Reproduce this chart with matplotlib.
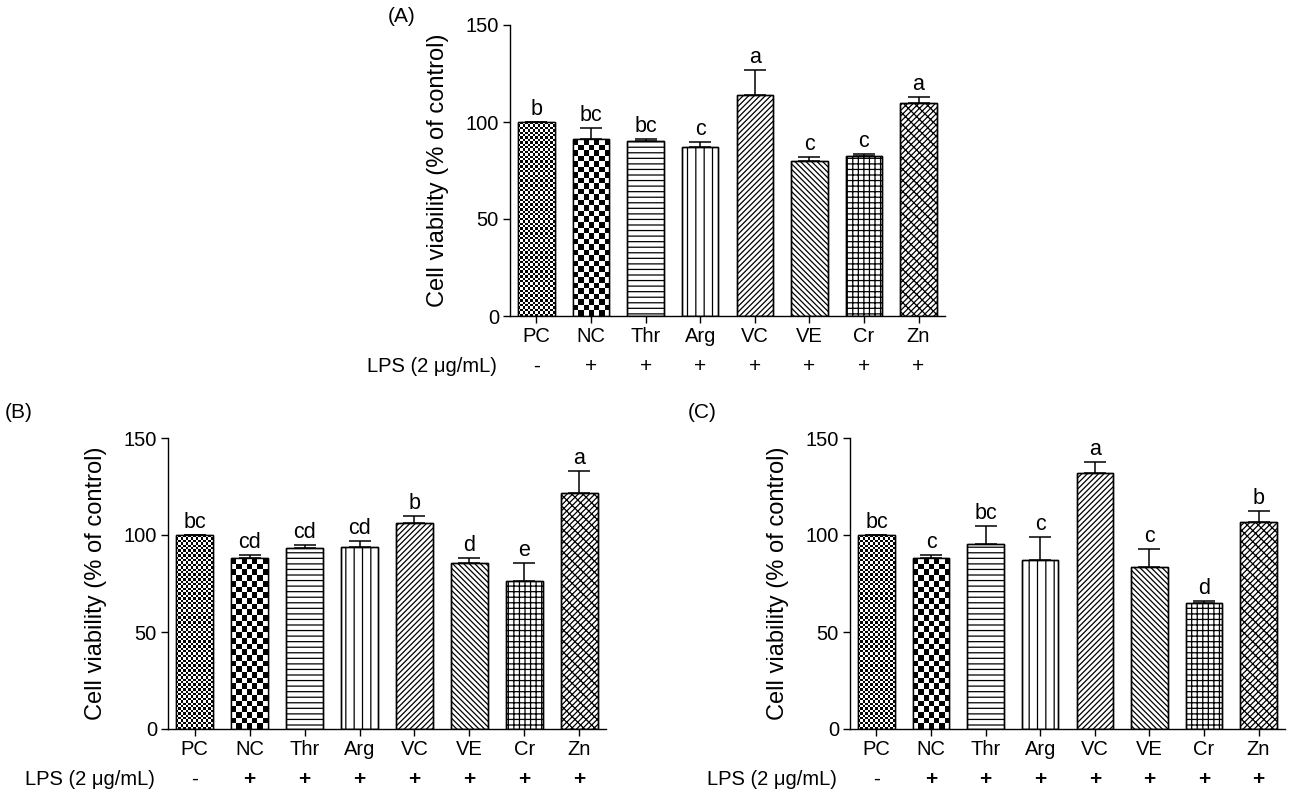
import numpy as np
import matplotlib
matplotlib.use("Agg")
import matplotlib.pyplot as plt
from matplotlib import transforms

plt.rcParams['font.family'] = ['Liberation Sans', 'DejaVu Sans']
plt.rcParams['hatch.linewidth'] = 0.9
plt.rcParams['hatch.color'] = 'black'

# data
groups = ['PC', 'NC', 'Thr', 'Arg', 'VC', 'VE', 'Cr', 'Zn']
lps_signs = ['-', '+', '+', '+', '+', '+', '+', '+']

a_mean = [100, 91.1, 90.2, 87.1, 113.7, 80.1, 82.3, 109.6]
a_err = [0, 5.7, 1.0, 2.4, 12.9, 2.0, 1.2, 3.1]
a_letters = ['b', 'bc', 'bc', 'c', 'a', 'c', 'c', 'a']

b_mean = [100, 87.9, 93.4, 93.9, 106.1, 85.8, 76.2, 121.6]
b_err = [0, 1.6, 1.2, 3.1, 3.5, 2.3, 9.5, 11.2]
b_letters = ['bc', 'cd', 'cd', 'cd', 'b', 'd', 'e', 'a']

c_mean = [100, 87.9, 95.6, 87.2, 131.8, 83.6, 64.7, 106.7]
c_err = [0, 1.6, 8.8, 11.9, 5.7, 9.0, 1.2, 5.8]
c_letters = ['bc', 'c', 'bc', 'c', 'a', 'c', 'd', 'b']

# fill style per group: checker cell size in px, or a hatch string
checker_px = {0: 2.4, 1: 5.6}
hatches = ['', '', '---', '||', '//////', '\\' * 6, '+++', '//////\\\\\\']

W, H = 1293, 800
fig = plt.figure(figsize=(W / 100, H / 100), dpi=100)


def px_rect(left, right, top, bottom):
    return [left / W, 1 - bottom / H, (right - left) / W, (bottom - top) / H]


def draw_panel(rect, means, errs, letters, bold_plus):
    ax = fig.add_axes(rect)
    x = np.arange(len(groups))
    bars = ax.bar(x, means, width=0.67, color='white', edgecolor='black',
                  linewidth=1.0, zorder=2)
    ax.set_xlim(-0.485, len(groups) - 0.515)
    ax.set_ylim(0, 150)
    for i, b in enumerate(bars):
        b.set_hatch(hatches[i])
        if i in checker_px:
            # checkerboard fill, clipped to the bar
            x0, w, h = b.get_x(), b.get_width(), b.get_height()
            p0 = ax.transData.transform((x0, 0))
            p1 = ax.transData.transform((x0 + w, h))
            nx = max(1, int(round((p1[0] - p0[0]) / checker_px[i])))
            ny = max(1, int(round((p1[1] - p0[1]) / checker_px[i])))
            arr = np.add.outer(np.arange(ny), np.arange(nx)) % 2
            im = ax.imshow(arr, extent=(x0, x0 + w, 0, h), origin='lower',
                           cmap='gray_r', interpolation='nearest',
                           aspect='auto', zorder=2.2)
            im.set_clip_path(b)
    ax.bar(x, means, width=0.67, fill=False, edgecolor='black',
           linewidth=1.0, zorder=2.4)
    ax.set_xlim(-0.485, len(groups) - 0.515)
    ax.set_ylim(0, 150)

    ax.errorbar(x, means, yerr=[np.zeros(len(errs)), errs], fmt='none',
                ecolor='black', elinewidth=1.1, capsize=8, capthick=1.1,
                zorder=3)
    for i in range(len(groups)):
        ax.annotate(letters[i], (x[i], means[i] + errs[i]), xytext=(0, 1.5),
                    textcoords='offset points', ha='center', va='bottom',
                    fontsize=15.5)

    for s in ['top', 'right']:
        ax.spines[s].set_visible(False)
    for s in ['left', 'bottom']:
        ax.spines[s].set_linewidth(1.0)
    ax.set_yticks([0, 50, 100, 150])
    ax.set_xticks(x)
    ax.set_xticklabels(groups)
    ax.tick_params(axis='both', direction='out', length=5, width=1.0,
                   labelsize=14.5, pad=3)
    ax.set_ylabel('Cell viability (% of control)', fontsize=17)
    ax.yaxis.set_label_coords(-0.14, 0.5)

    trans = transforms.blended_transform_factory(ax.transData, ax.transAxes)
    for i in range(len(groups)):
        ax.text(x[i], -0.172, lps_signs[i], transform=trans, ha='center',
                va='center', fontsize=15,
                fontweight='bold' if (bold_plus and lps_signs[i] == '+') else 'normal')
    ax.text(-0.03, -0.172, 'LPS (2 μg/mL)', transform=ax.transAxes,
            ha='right', va='center', fontsize=14.5)
    return ax


draw_panel(px_rect(510, 945, 25, 316), a_mean, a_err, a_letters, False)
draw_panel(px_rect(168, 606, 438, 729), b_mean, b_err, b_letters, True)
draw_panel(px_rect(850, 1285, 438, 729), c_mean, c_err, c_letters, True)

fig.text(402 / W, 1 - 16 / H, '(A)', ha='center', va='center', fontsize=15)
fig.text(19 / W, 1 - 413 / H, '(B)', ha='center', va='center', fontsize=15)
fig.text(702 / W, 1 - 413 / H, '(C)', ha='center', va='center', fontsize=15)

fig.savefig('out.png', dpi=100)
